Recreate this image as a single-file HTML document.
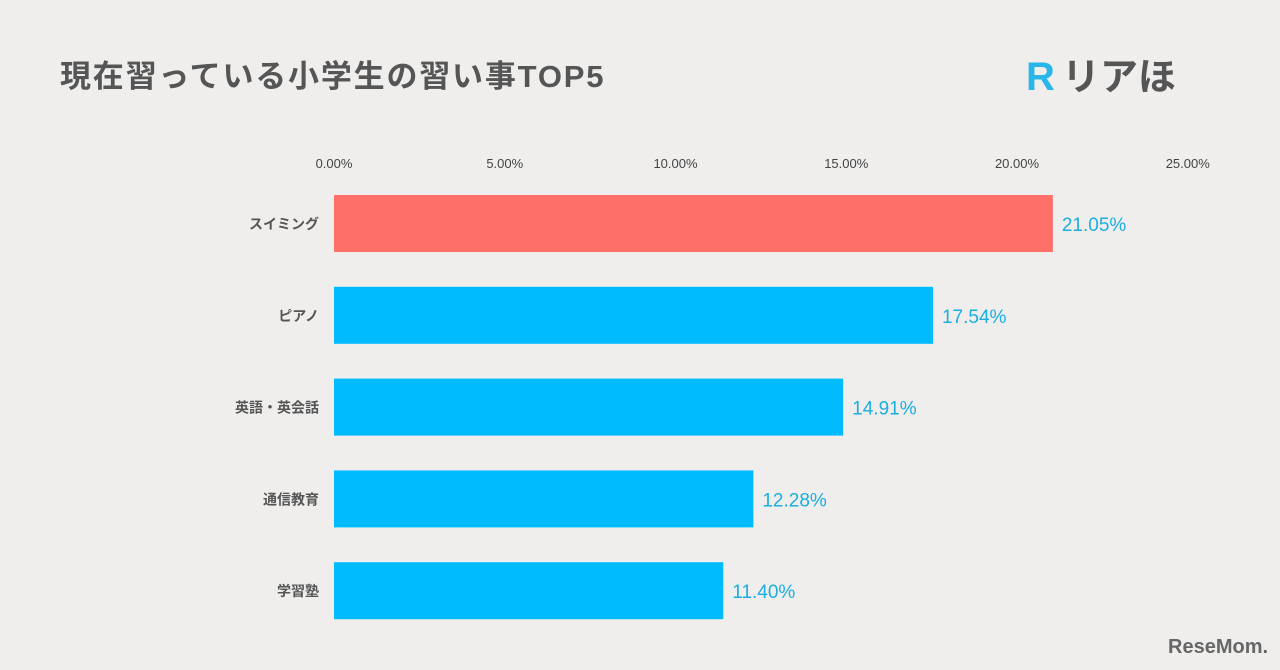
<!DOCTYPE html>
<html><head><meta charset="utf-8"><style>
html,body{margin:0;padding:0;background:#efeeed;width:1280px;height:670px;overflow:hidden}
svg{display:block}
text{font-family:"Liberation Sans","Noto Sans CJK JP",sans-serif}
</style></head><body>
<svg id="c" width="1280" height="670">
<rect width="1280" height="670" fill="#efeeed"/>
<text x="60" y="87" font-size="31" font-weight="bold" fill="#555" letter-spacing="1.8">現在習っている小学生の習い事TOP5</text>
<g>
<text x="1026" y="90" font-size="40" font-weight="bold" fill="#29b6e8">R</text>
<text x="1062" y="90" font-size="38" font-weight="bold" fill="#555">リアほ</text>
</g>
<text x="1168" y="653" font-size="20" font-weight="bold" fill="#666">ReseMom.</text>
<g id="axis"></g>
<g id="bars"></g>
</svg>
<script>
const categories=["スイミング","ピアノ","英語・英会話","通信教育","学習塾"];
const values=[21.05,17.54,14.91,12.28,11.40];
const ticks=[0,5,10,15,20,25];
const x0=334, pxPer=34.15;
const xs=v=>x0+v*pxPer;
const ys=i=>195+i*91.8;
const ns="http://www.w3.org/2000/svg";
const ax=document.getElementById('axis'), bg=document.getElementById('bars');
ticks.forEach(t=>{
 const e=document.createElementNS(ns,'text');
 e.setAttribute('x',xs(t));e.setAttribute('y',168);e.setAttribute('text-anchor','middle');
 e.setAttribute('font-size','13');e.setAttribute('fill','#444');
 e.textContent=t.toFixed(2)+'%';
 
 
 ax.appendChild(e);
});
categories.forEach((c,i)=>{
 const y=ys(i);
 const r=document.createElementNS(ns,'rect');
 r.setAttribute('x',x0);r.setAttribute('y',y);r.setAttribute('height',57);
 r.setAttribute('width',xs(values[i])-x0);
 r.setAttribute('fill',i===0?'#ff7068':'#00bcff');
 
 
 bg.appendChild(r);
 const l=document.createElementNS(ns,'text');
 l.setAttribute('x',319);l.setAttribute('y',y+34);l.setAttribute('text-anchor','end');
 l.setAttribute('font-size','14');l.setAttribute('font-weight','bold');l.setAttribute('fill','#555');
 l.textContent=c;
 
 
 bg.appendChild(l);
 const v=document.createElementNS(ns,'text');
 v.setAttribute('x',xs(values[i])+9);v.setAttribute('y',y+36);
 v.setAttribute('font-size','19');v.setAttribute('fill','#1aaee0');
 v.textContent=values[i].toFixed(2)+'%';
 
 
 bg.appendChild(v);
});
</script>
</body></html>
